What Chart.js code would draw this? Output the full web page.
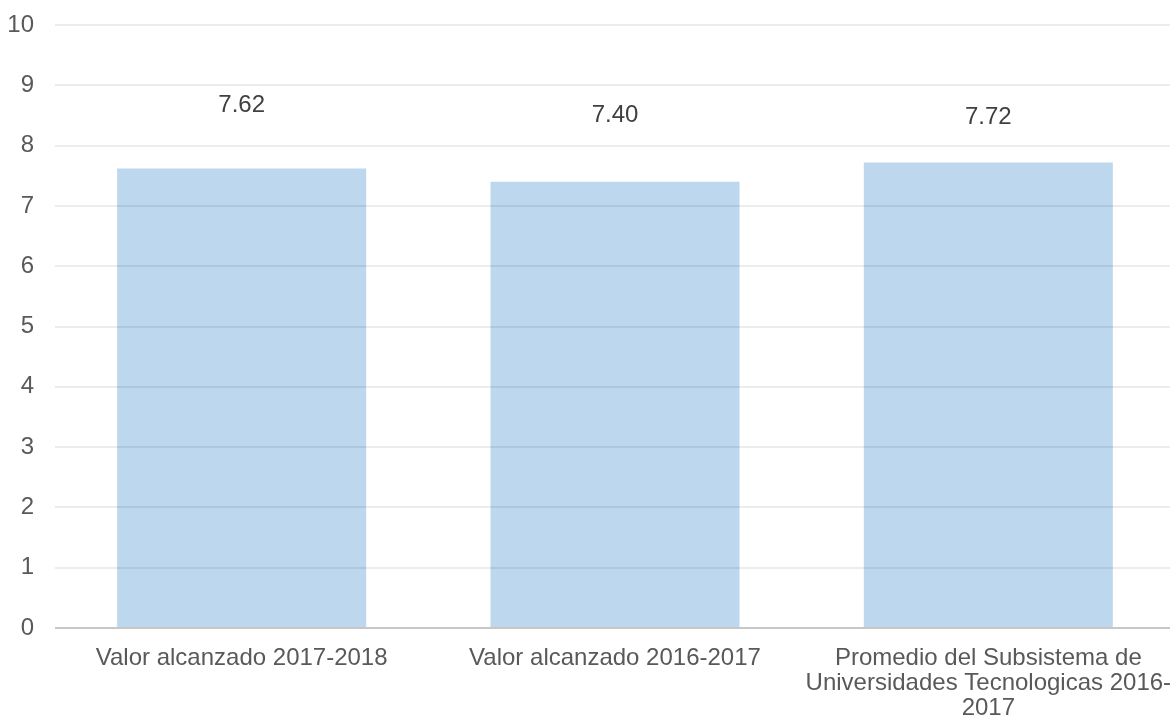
<!DOCTYPE html>
<html>
<head>
<meta charset="utf-8">
<script src="https://cdn.jsdelivr.net/npm/chart.js@4"></script>
<style>
  html, body { margin: 0; padding: 0; background: #fff; overflow: hidden; }
  #wrap { width: 1175px; height: 719px; position: relative; }
</style>
</head>
<body>
<div id="wrap"><canvas id="graph"></canvas></div>
<script>
// categories and values
var categories = [
  'Valor alcanzado 2017-2018',
  'Valor alcanzado 2016-2017',
  ['Promedio del Subsistema de', 'Universidades Tecnologicas 2016-', '2017']
];
var valores = [7.62, 7.40, 7.72];
var yTicks = [0, 1, 2, 3, 4, 5, 6, 7, 8, 9, 10];

// how high each value label sits above its bar (px)
var labelLift = [63, 66, 45];

var fontFamily = '"Liberation Sans", Arial, sans-serif';

// writes the value over each bar
const valueLabels = {
  id: 'valueLabels',
  afterDatasetsDraw(chart) {
    const ctx = chart.ctx;
    const meta = chart.getDatasetMeta(0);
    ctx.save();
    ctx.font = '24px ' + fontFamily;
    ctx.fillStyle = '#404040';
    ctx.textAlign = 'center';
    ctx.textBaseline = 'middle';
    meta.data.forEach(function (bar, i) {
      ctx.fillText(valores[i].toFixed(2), bar.x, bar.y - labelLift[i]);
    });
    ctx.restore();
  }
};

let data = {
  labels: categories,
  datasets: [{
    data: valores,
    backgroundColor: '#bdd7ee',
    borderWidth: 0,
    categoryPercentage: 1,
    barPercentage: 0.667
  }]
};

const config = {
  type: 'bar',
  data,
  plugins: [valueLabels],
  options: {
    responsive: true,
    maintainAspectRatio: false,
    animation: false,
    layout: { padding: { left: 8, right: 0, top: 25, bottom: 0 } },
    plugins: {
      legend: { display: false },
      tooltip: { enabled: false }
    },
    scales: {
      x: {
        grid: { display: false, drawTicks: false },
        border: { display: false },
        ticks: {
          color: '#595959',
          font: { family: fontFamily, size: 24, lineHeight: 1.04 },
          padding: 18,
          maxRotation: 0,
          autoSkip: false
        },
        afterFit: function (scale) {
          scale.height = 91;
          scale.paddingLeft = 0;
          scale.paddingRight = 0;
        }
      },
      y: {
        min: 0,
        max: 10,
        afterBuildTicks: function (scale) {
          scale.ticks = yTicks.map(function (v) { return { value: v }; });
        },
        grid: {
          z: 1,
          drawTicks: false,
          lineWidth: 2,
          color: function (c) { return c.tick.value === 0 ? 'rgba(0,0,0,0.22)' : 'rgba(0,0,0,0.075)'; }
        },
        border: { display: false },
        ticks: {
          color: '#595959',
          font: { family: fontFamily, size: 24 },
          padding: 21
        },
        afterFit: function (scale) {
          scale.width = 47;
          scale.paddingTop = 0;
          scale.paddingBottom = 0;
        }
      }
    }
  }
};

const barChart = new Chart(document.getElementById('graph'), config);
</script>
</body>
</html>
